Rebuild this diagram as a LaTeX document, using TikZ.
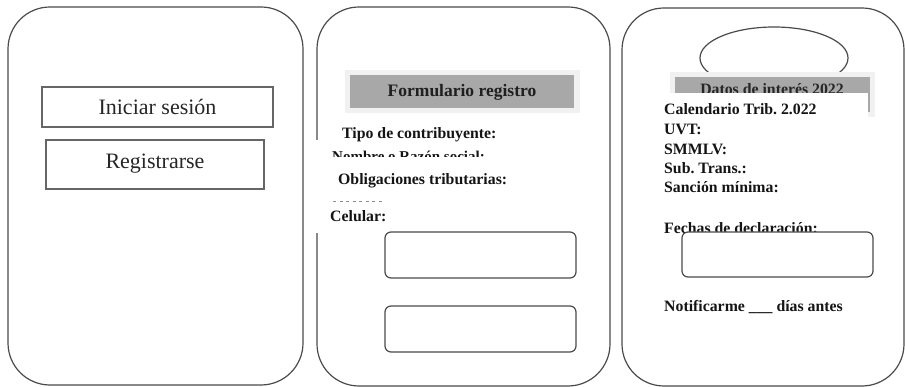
\documentclass[tikz,border=0pt]{standalone}
\usepackage{fontspec}
\setmainfont{Liberation Serif}
\frenchspacing
\definecolor{frame}{HTML}{4A4A4A}
\definecolor{hdrgray}{HTML}{A8A8A8}
\definecolor{halo}{HTML}{F1F1F1}
\definecolor{txt}{HTML}{141414}
\begin{document}
\begin{tikzpicture}[x=1pt,y=-1pt,
  panel/.style={draw=frame,line width=1.2pt,rounded corners=42pt},
  btn/.style={draw=black!60,line width=1.8pt},
  field/.style={draw=frame,line width=1.2pt,rounded corners=6pt,fill=white},
  btntext/.style={text=black!85,inner sep=0pt,font=\fontsize{22}{24}\selectfont},
  lbl/.style={text=txt,inner sep=0pt,anchor=base west,font=\fontsize{15.8}{18}\selectfont\bfseries},
  hdr/.style={text=black!88,inner sep=0pt,anchor=base,font=\fontsize{17.5}{20}\selectfont\bfseries}]
\useasboundingbox (0,0) rectangle (905,387);
% ---------- panel 1 ----------
\draw[panel] (8,7) rectangle (303,385);
\draw[btn] (42,87) rectangle (273,127);
\draw[btn] (46,140) rectangle (264,189);
\node[btntext] (login) at (157.5,107) {Iniciar sesión};
\node[btntext] (reg) at (155,164) {Registrarse};
% ---------- panel 2 ----------
\draw[panel] (317,7) rectangle (610,386);
\fill[white] (311,140) rectangle (324,233);
\fill[halo] (345,70) rectangle (580,113);
\fill[hdrgray] (350,75) rectangle (574,108);
\node[hdr] (form) at (462,97) {Formulario registro};
\node[lbl] (tipo) at (342,138.5) {Tipo de contribuyente:};
\begin{scope}
  \clip (320,140) rectangle (530,156.5);
  \node[lbl,font=\fontsize{15}{18}\selectfont\bfseries] (nombre) at (332,161.5) {Nombre o Razón social:};
\end{scope}
\node[lbl] (oblig) at (338,185) {Obligaciones tributarias:};
\draw[black!45,line width=1pt,dash pattern=on 3pt off 3.5pt] (333,202) -- (384,202);
\node[lbl] (cel) at (330,222) {Celular:};
\draw[field] (385,232) rectangle (576,278);
\draw[field] (385,306) rectangle (576,352);
% ---------- panel 3 ----------
\draw[panel] (622,8) rectangle (904,386);
\draw[frame,line width=1.2pt] (774,58) ellipse [x radius=74, y radius=31];
\fill[halo] (670,72) rectangle (875,117);
\fill[hdrgray] (675,77) rectangle (870,112);
\begin{scope}
  \clip (675,77) rectangle (870,93);
  \node[lbl,anchor=base,text=black!85] (datos) at (772,95) {Datos de interés 2022};
\end{scope}
\fill[white] (660,93) rectangle (867.5,120);
\node[lbl] (cal) at (664,115) {Calendario Trib. 2.022};
\node[lbl] (uvt) at (664,135) {UVT:};
\node[lbl] (smm) at (664,155) {SMMLV:};
\node[lbl] (sub) at (664,174) {Sub. Trans.:};
\node[lbl] (san) at (664,193) {Sanción mínima:};
\node[lbl] (fech) at (664,234) {Fechas de declaración:};
\draw[field] (682,232) rectangle (873,277);
\node[lbl] (notif) at (664,312) {Notificarme \_\_\_ días antes};
\end{tikzpicture}
\end{document}
